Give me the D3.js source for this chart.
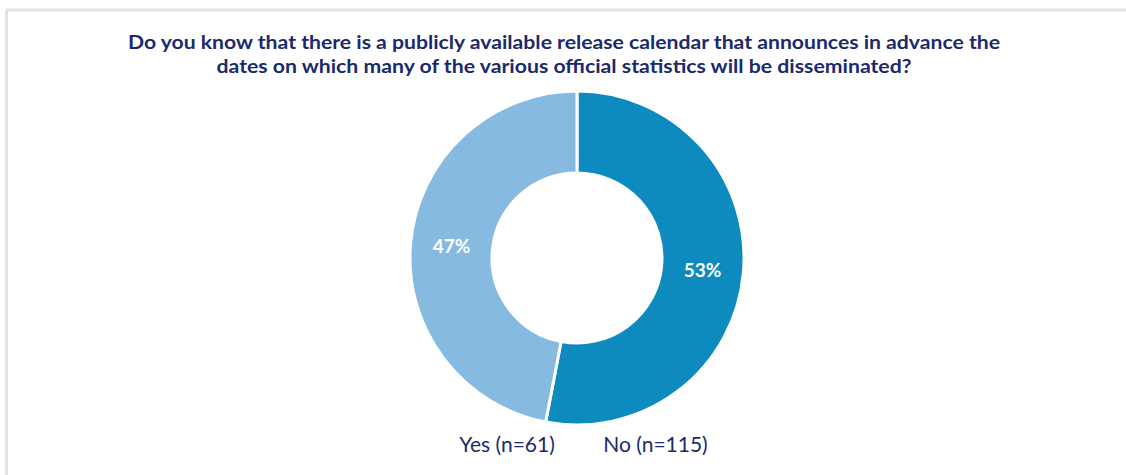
<!DOCTYPE html>
<html>
<head>
<meta charset="utf-8">
<script src="https://cdn.jsdelivr.net/npm/d3@7"></script>
<style>
  html, body { margin: 0; padding: 0; background: #fff; }
  svg { display: block; }
</style>
</head>
<body>
<svg id="chart" width="1126" height="475"></svg>
<script>
// Survey answers and their shares (percent)
const categories = ["No", "Yes"];
const shares = [53, 47];
const legendLabels = ["Yes (n=61)", "No (n=115)"];
const titleLines = [
  "Do you know that there is a publicly available release calendar that announces in advance the",
  "dates on which many of the various official statistics will be disseminated?"
];

const colors = { No: "#0e8bbe", Yes: "#86bae0" };
const navy = "#1b2a6b";

const svg = d3.select("#chart");

// Panel frame (top and left edges)
svg.append("line").attr("x1", 6).attr("x2", 1126).attr("y1", 10).attr("y2", 10)
  .attr("stroke", "#e2e2e2").attr("stroke-width", 3);
svg.append("line").attr("x1", 6.5).attr("x2", 6.5).attr("y1", 10).attr("y2", 475)
  .attr("stroke", "#e2e2e2").attr("stroke-width", 3);

// Title, two centred lines stretched to the panel's title width
const titleWidths = [872, 695];
svg.append("text")
  .attr("text-anchor", "middle")
  .attr("font-family", "Lato, 'Open Sans', sans-serif")
  .attr("font-weight", "bold")
  .attr("font-size", 19)
  .attr("fill", navy)
  .selectAll("tspan").data(titleLines).join("tspan")
  .attr("x", 564)
  .attr("y", (d, i) => 49 + i * 24)
  .attr("textLength", (d, i) => titleWidths[i])
  .attr("lengthAdjust", "spacingAndGlyphs")
  .text(d => d);

// Donut
const cx = 577, cy = 258;
const outerR = 167, innerR = 85;

const pie = d3.pie().sort(null).value(d => d.value);
const arc = d3.arc().innerRadius(innerR).outerRadius(outerR);
const data = categories.map((c, i) => ({ name: c, value: shares[i] }));
const arcs = pie(data);

const g = svg.append("g").attr("transform", `translate(${cx},${cy})`);

g.selectAll("path").data(arcs).join("path")
  .attr("d", arc)
  .attr("fill", d => colors[d.data.name])
  .attr("stroke", "#fff")
  .attr("stroke-width", 3)
  .attr("stroke-linejoin", "miter");

g.selectAll("text.pct").data(arcs).join("text")
  .attr("class", "pct")
  .attr("transform", d => `translate(${arc.centroid(d)})`)
  .attr("text-anchor", "middle")
  .attr("dy", "0.35em")
  .attr("font-family", "Lato, 'Open Sans', sans-serif")
  .attr("font-weight", "bold")
  .attr("font-size", 19)
  .attr("fill", "#fff")
  .text(d => d.data.value + "%");

// Legend labels
const legendX = [507, 655.5];
svg.selectAll("text.legend").data(legendLabels).join("text")
  .attr("class", "legend")
  .attr("x", (d, i) => legendX[i])
  .attr("y", 452)
  .attr("text-anchor", "middle")
  .attr("font-family", "Lato, 'Open Sans', sans-serif")
  .attr("font-size", 21)
  .attr("fill", navy)
  .text(d => d);
</script>
</body>
</html>
